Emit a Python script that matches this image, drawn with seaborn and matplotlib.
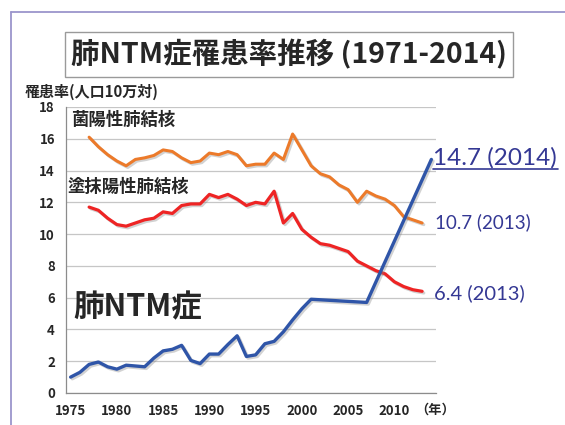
import numpy as np
import pandas as pd
import matplotlib
matplotlib.use("Agg")
import matplotlib.pyplot as plt
import matplotlib.patheffects as pe
from matplotlib.lines import Line2D
from matplotlib.patches import Rectangle
import seaborn as sns

# 肺NTM症 (1975-2001 年次データ, 2007, 2014 調査)
ntm_years = list(range(1975, 2002)) + [2007, 2014]
ntm_rate = [1.0, 1.3, 1.8, 1.95, 1.65, 1.5, 1.75, 1.7, 1.65, 2.2,
            2.65, 2.75, 3.0, 2.05, 1.85, 2.45, 2.45, 3.05, 3.6, 2.3,
            2.4, 3.1, 3.25, 3.85, 4.6, 5.3, 5.9, 5.7, 14.7]

# 結核 (1977-2013)
tb_years = list(range(1977, 2014))
kin_rate = [16.1, 15.5, 15.0, 14.6, 14.3, 14.7, 14.8, 14.95, 15.3, 15.2,
            14.8, 14.5, 14.6, 15.1, 15.0, 15.2, 15.0, 14.3, 14.4, 14.4,
            15.1, 14.7, 16.3, 15.3, 14.3, 13.8, 13.6, 13.1, 12.8, 12.0,
            12.7, 12.4, 12.2, 11.8, 11.1, 10.9, 10.7]
tomatsu_rate = [11.7, 11.5, 11.0, 10.6, 10.5, 10.7, 10.9, 11.0, 11.4, 11.3,
                11.8, 11.9, 11.9, 12.5, 12.3, 12.5, 12.2, 11.8, 12.0, 11.9,
                12.7, 10.7, 11.3, 10.3, 9.8, 9.4, 9.3, 9.1, 8.9, 8.3,
                8.0, 7.7, 7.5, 7.0, 6.7, 6.5, 6.4]

yticks = list(range(0, 19, 2))
xticks = list(range(1975, 2011, 5))

sns.set_style("white")
plt.rcParams['font.family'] = ['Noto Sans CJK JP', 'DejaVu Sans']

W, H = 565, 425
fig = plt.figure(figsize=(W / 100, H / 100), dpi=100)
ax = fig.add_axes([66 / W, 1 - 393 / H, (436 - 66) / W, (393 - 107) / H])

shadow = [pe.SimpleLineShadow(offset=(1.2, -1.2), shadow_color='gray', alpha=0.35),
          pe.Normal()]

df_kin = pd.DataFrame({'year': tb_years, 'rate': kin_rate})
df_tom = pd.DataFrame({'year': tb_years, 'rate': tomatsu_rate})
df_ntm = pd.DataFrame({'year': ntm_years, 'rate': ntm_rate})

sns.lineplot(data=df_kin, x='year', y='rate', ax=ax, color='#EC7A2A', linewidth=2.2,
             path_effects=shadow)
sns.lineplot(data=df_tom, x='year', y='rate', ax=ax, color='#EE2424', linewidth=2.3,
             path_effects=shadow)
sns.lineplot(data=df_ntm, x='year', y='rate', ax=ax, color='#2F55A8', linewidth=2.4,
             path_effects=shadow)

ax.set_xlim(1974.5, 2014.5)
ax.set_ylim(0, 18)
ax.set_yticks(yticks)
ax.set_xticks(xticks)
ax.set_xticks(np.arange(1974.5, 2015, 5), minor=True)
ax.set_xlabel('')
ax.set_ylabel('')

ax.yaxis.grid(True, color='#c6c6c6', linewidth=0.9)
ax.set_axisbelow(True)
for s in ['top', 'right']:
    ax.spines[s].set_visible(False)
for s in ['left', 'bottom']:
    ax.spines[s].set_color('#8c8c8c')
    ax.spines[s].set_linewidth(0.9)

ax.tick_params(axis='y', length=3, color='#8c8c8c', pad=5, labelsize=9.5)
ax.tick_params(axis='x', which='major', length=0, pad=8, labelsize=9.5)
ax.tick_params(axis='x', which='minor', length=3.5, color='#8c8c8c')
for lab in ax.get_xticklabels() + ax.get_yticklabels():
    lab.set_fontweight('bold')

# series labels
ax.text(1975.0, 17.17, '菌陽性肺結核', fontsize=12.5, fontweight='bold', va='center', ha='left')
ax.text(1974.7, 13.0, '塗抹陽性肺結核', fontsize=12.5, fontweight='bold', va='center', ha='left')
ax.text(1975.3, 5.4, '肺NTM症', fontsize=22, fontweight='bold', va='center', ha='left')

# value labels
navy = '#343894'
fig.text(433 / W, 1 - 158 / H, '14.7 (2014)', fontsize=17.5, color=navy,
         family=['Lato', 'DejaVu Sans'], va='center', ha='left')
fig.add_artist(Line2D([433 / W, 558 / W], [1 - 169 / H, 1 - 169 / H], color=navy, lw=1.2))
fig.text(435 / W, 1 - 222 / H, '10.7 (2013)', fontsize=13.5, color=navy,
         family=['Lato', 'DejaVu Sans'], va='center', ha='left')
fig.text(434 / W, 1 - 293 / H, '6.4 (2013)', fontsize=14.5, color=navy,
         family=['Lato', 'DejaVu Sans'], va='center', ha='left')

# axis captions
fig.text(25 / W, 1 - 92 / H, '罹患率(人口10万対)', fontsize=10.8, fontweight='bold',
         va='center', ha='left')
fig.text(435 / W, 1 - 410 / H, '（年）', fontsize=9.5, fontweight='bold',
         va='center', ha='center')

# title box
fig.add_artist(Rectangle((65 / W, 1 - 77 / H), (513 - 65) / W, 45 / H,
                         transform=fig.transFigure, fill=False,
                         edgecolor='#9a9a9a', linewidth=1))
fig.text(289 / W, 1 - 54.5 / H, '肺NTM症罹患率推移 (1971-2014)', fontsize=20.5,
         fontweight='bold', va='center', ha='center')

# slide frame
frame_c = '#9b95cc'
fig.add_artist(Line2D([10.5 / W, 1.0], [1 - 11.5 / H, 1 - 11.5 / H], color=frame_c, lw=1.3))
fig.add_artist(Line2D([10.5 / W, 10.5 / W], [0, 1 - 11.5 / H], color=frame_c, lw=1.3))

fig.savefig('out.png', dpi=100)
